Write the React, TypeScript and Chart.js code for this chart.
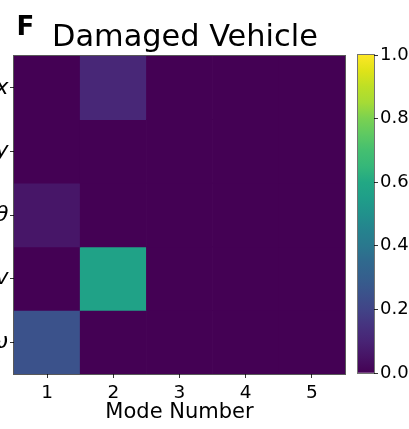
import { useEffect, useRef } from "react";
import { Chart, registerables } from "chart.js";

Chart.register(...registerables);

// Mode numbers along the horizontal axis
const modeLabels = ["1", "2", "3", "4", "5"];
// State variables, listed top to bottom
const stateLabels = ["x", "y", "θ", "v", "ω"];
// Contribution of each state to modes 1–5
const xRow = [0.0, 0.11, 0.0, 0.0, 0.0];
const yRow = [0.0, 0.0, 0.0, 0.0, 0.0];
const thetaRow = [0.06, 0.0, 0.0, 0.0, 0.0];
const vRow = [0.0, 0.57, 0.0, 0.0, 0.0];
const omegaRow = [0.25, 0.0, 0.0, 0.0, 0.0];
const rows = [xRow, yRow, thetaRow, vRow, omegaRow];
// Colour bar range and its tick values
const colorbarRange = [0, 1];
const colorbarTicks = [0, 0.2, 0.4, 0.6, 0.8, 1.0];

const FONT = "'DejaVu Sans', sans-serif";

// Viridis colormap sampled every 0.05
const VIRIDIS = [
  "#440154", "#471365", "#482475", "#46337f", "#414487", "#3b528b",
  "#355f8d", "#30698e", "#2a788e", "#25838e", "#21918c", "#1f9e89",
  "#22a884", "#35b779", "#44bf70", "#5ec962", "#7ad151", "#a5db36",
  "#bddf26", "#dfe318", "#fde725",
];

function hexToRgb(h: string): number[] {
  const n = parseInt(h.slice(1), 16);
  return [(n >> 16) & 255, (n >> 8) & 255, n & 255];
}

function viridis(t: number): string {
  const v = Math.min(1, Math.max(0, t)) * (VIRIDIS.length - 1);
  const i = Math.min(VIRIDIS.length - 2, Math.floor(v));
  const f = v - i;
  const a = hexToRgb(VIRIDIS[i]);
  const b = hexToRgb(VIRIDIS[i + 1]);
  const c = a.map((x, k) => Math.round(x + (b[k] - x) * f));
  return `rgb(${c[0]},${c[1]},${c[2]})`;
}

const LEFT_SHIFT = 30; // main canvas starts left of the page so row labels clip

const heatmapDecor = {
  id: "heatmapDecor",
  afterDraw(chart: any) {
    const { ctx, chartArea } = chart;
    ctx.save();
    ctx.strokeStyle = "rgba(0,0,0,0.65)";
    ctx.lineWidth = 1;
    ctx.strokeRect(
      chartArea.left - 0.5,
      chartArea.top - 0.5,
      chartArea.right - chartArea.left + 1,
      chartArea.bottom - chartArea.top + 1
    );
    ctx.fillStyle = "#000";
    ctx.textBaseline = "alphabetic";
    ctx.textAlign = "left";
    ctx.font = `bold 26px ${FONT}`;
    ctx.fillText("F", 16.5 + LEFT_SHIFT, 35);
    ctx.font = `30.4px ${FONT}`;
    ctx.fillText("Damaged Vehicle", 52 + LEFT_SHIFT, 46);
    ctx.textAlign = "center";
    ctx.font = `21px ${FONT}`;
    ctx.fillText("Mode Number", (chartArea.left + chartArea.right) / 2, 417.5);
    ctx.restore();
  },
};

const colorbarFrame = {
  id: "colorbarFrame",
  afterDatasetsDraw(chart: any) {
    const { ctx, chartArea } = chart;
    ctx.save();
    ctx.strokeStyle = "rgba(0,0,0,0.55)";
    ctx.lineWidth = 1;
    ctx.strokeRect(
      chartArea.left - 0.5,
      chartArea.top - 0.5,
      chartArea.right - chartArea.left + 1,
      chartArea.bottom - chartArea.top + 1
    );
    ctx.restore();
  },
};

export default function App() {
  const mainRef = useRef<HTMLCanvasElement>(null);
  const barRef = useRef<HTMLCanvasElement>(null);

  useEffect(() => {
    if (!mainRef.current || !barRef.current) return;

    const heatmap = new Chart(mainRef.current, {
      type: "bar",
      data: {
        labels: modeLabels,
        datasets: rows.map((vals, r) => ({
          label: stateLabels[r],
          data: vals.map(() => [r - 0.5, r + 0.5]),
          backgroundColor: vals.map(viridis),
          borderWidth: 0,
          barPercentage: 1,
          categoryPercentage: 1,
          grouped: false,
        })),
      } as any,
      options: {
        responsive: false,
        animation: false,
        layout: { padding: { top: 56, right: 5, left: 0, bottom: 0 } },
        plugins: { legend: { display: false }, tooltip: { enabled: false } },
        scales: {
          x: {
            type: "category",
            offset: true,
            grid: {
              display: true,
              offset: false,
              drawOnChartArea: false,
              drawTicks: true,
              tickLength: 4,
              color: "#333",
            },
            border: { display: false },
            ticks: {
              font: { family: FONT, size: 18.5 },
              color: "#000",
              padding: 4,
              maxRotation: 0,
            },
            afterFit: (s: any) => {
              s.height = 55;
            },
          },
          y: {
            type: "linear",
            min: -0.5,
            max: 4.5,
            reverse: true,
            afterBuildTicks: (s: any) => {
              s.ticks = stateLabels.map((_, i) => ({ value: i }));
            },
            ticks: {
              callback: (v: any) => stateLabels[Math.round(Number(v))] ?? "",
              font: { family: FONT, size: 22, style: "italic" },
              color: "#000",
              padding: 1.5,
            },
            grid: { drawOnChartArea: false, tickLength: 4, color: "#333" },
            border: { display: false },
            afterFit: (s: any) => {
              s.width = 44;
            },
          },
        },
      } as any,
      plugins: [heatmapDecor],
    });

    const colorbar = new Chart(barRef.current, {
      type: "bar",
      data: {
        labels: [""],
        datasets: [
          {
            data: [colorbarRange],
            backgroundColor: (c: any) => {
              const area = c.chart.chartArea;
              if (!area) return VIRIDIS[0];
              const g = c.chart.ctx.createLinearGradient(0, area.bottom, 0, area.top);
              VIRIDIS.forEach((col, i) => g.addColorStop(i / (VIRIDIS.length - 1), col));
              return g;
            },
            borderWidth: 0,
            barPercentage: 1,
            categoryPercentage: 1,
          },
        ],
      } as any,
      options: {
        responsive: false,
        animation: false,
        layout: { padding: { left: 8, top: 55, bottom: 56, right: 0 } },
        plugins: { legend: { display: false }, tooltip: { enabled: false } },
        scales: {
          x: { display: false },
          y: {
            position: "right",
            min: colorbarRange[0],
            max: colorbarRange[1],
            afterBuildTicks: (s: any) => {
              s.ticks = colorbarTicks.map((v) => ({ value: v }));
            },
            ticks: {
              callback: (v: any) => Number(v).toFixed(1),
              font: { family: FONT, size: 18 },
              color: "#000",
              padding: 2,
            },
            grid: { drawOnChartArea: false, tickLength: 4, color: "#333" },
            border: { display: false },
            afterFit: (s: any) => {
              s.width = 35;
            },
          },
        },
      } as any,
      plugins: [colorbarFrame],
    });

    return () => {
      heatmap.destroy();
      colorbar.destroy();
    };
  }, []);

  return (
    <div
      style={{
        position: "fixed",
        left: 0,
        top: 0,
        width: 409,
        height: 429,
        overflow: "hidden",
        background: "#fff",
      }}
    >
      <canvas
        ref={mainRef}
        width={380}
        height={429}
        style={{ position: "absolute", left: -LEFT_SHIFT, top: 0 }}
      />
      <canvas
        ref={barRef}
        width={59}
        height={429}
        style={{ position: "absolute", left: 350, top: 0 }}
      />
    </div>
  );
}
